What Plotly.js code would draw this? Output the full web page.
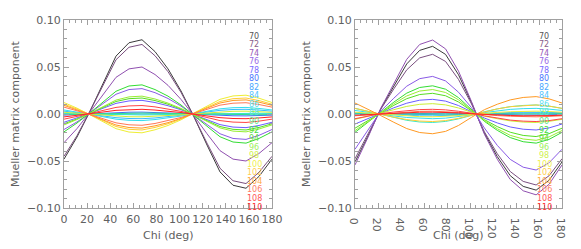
<!DOCTYPE html>
<html>
<head>
<meta charset="utf-8">
<script src="https://cdn.plot.ly/plotly-3.0.1.min.js"></script>
<style>html,body{margin:0;padding:0;background:#fff;}#chart{width:581px;height:249px;}</style>
</head>
<body>
<div id="chart"></div>
<script>
// Chi sample angles (deg)
const chi = [0, 11.25, 22.5, 33.75, 45, 56.25, 67.5, 78.75, 90, 101.25, 112.5, 123.75, 135, 146.25, 157.5, 168.75, 180];
// Scattering angle labels
const angleLabels = ['70','72','74','76','78','80','82','84','86','88','90','92','94','96','98','100','102','104','106','108','110'];

// Left panel series (one per angle label)
const L70  = [-0.048,-0.0245,0.003,0.033,0.0616,0.0758,0.079,0.0664,0.048,0.0245,-0.003,-0.033,-0.0616,-0.0758,-0.079,-0.0664,-0.048];
const L72  = [-0.045,-0.023,0.003,0.031,0.0577,0.071,0.074,0.062,0.045,0.023,-0.003,-0.031,-0.0577,-0.071,-0.074,-0.062,-0.045];
const L74  = [-0.0305,-0.0155,0.002,0.021,0.039,0.048,0.050,0.042,0.0305,0.0155,-0.002,-0.021,-0.039,-0.048,-0.050,-0.042,-0.0305];
const L76  = [-0.0165,-0.0084,0.0011,0.0113,0.021,0.026,0.027,0.0227,0.0165,0.0084,-0.0011,-0.0113,-0.021,-0.026,-0.027,-0.0227,-0.0165];
const L78  = [-0.0088,-0.0045,0.0006,0.0061,0.0113,0.0139,0.0145,0.0122,0.0088,0.0045,-0.0006,-0.0061,-0.0113,-0.0139,-0.0145,-0.0122,-0.0088];
const L80  = [-0.0012,-0.0006,0.0001,0.0008,0.0016,0.0019,0.002,0.0017,0.0012,0.0006,-0.0001,-0.0008,-0.0016,-0.0019,-0.002,-0.0017,-0.0012];
const L82  = [-0.0001,0,0,0.0001,0.0001,0.0002,0.0002,0.0001,0.0001,0,0,-0.0001,-0.0001,-0.0002,-0.0002,-0.0001,-0.0001];
const L84  = [0.003,0.0016,-0.0002,-0.0021,-0.0039,-0.0048,-0.005,-0.0042,-0.003,-0.0016,0.0002,0.0021,0.0039,0.0048,0.005,0.0042,0.003];
const L86  = [0.0043,0.0022,-0.0003,-0.0029,-0.0055,-0.0067,-0.007,-0.0059,-0.0043,-0.0022,0.0003,0.0029,0.0055,0.0067,0.007,0.0059,0.0043];
const L88  = [0.0006,0.0003,0,-0.0004,-0.0008,-0.001,-0.001,-0.0008,-0.0006,-0.0003,0,0.0004,0.0008,0.001,0.001,0.0008,0.0006];
const L90  = [-0.0006,-0.0003,0,0.0004,0.0008,0.001,0.001,0.0008,0.0006,0.0003,0,-0.0004,-0.0008,-0.001,-0.001,-0.0008,-0.0006];
const L92  = [-0.019,-0.0096,0.0012,0.013,0.0242,0.0298,0.031,0.026,0.019,0.0096,-0.0012,-0.013,-0.0242,-0.0298,-0.031,-0.026,-0.019];
const L94  = [-0.0104,-0.0053,0.0007,0.0071,0.0133,0.0163,0.017,0.0143,0.0104,0.0053,-0.0007,-0.0071,-0.0133,-0.0163,-0.017,-0.0143,-0.0104];
const L96  = [-0.0116,-0.0059,0.0008,0.008,0.0148,0.0182,0.019,0.016,0.0116,0.0059,-0.0008,-0.008,-0.0148,-0.0182,-0.019,-0.016,-0.0116];
const L98  = [0.0018,0.0009,-0.0001,-0.0013,-0.0023,-0.0029,-0.003,-0.0025,-0.0018,-0.0009,0.0001,0.0013,0.0023,0.0029,0.003,0.0025,0.0018];
const L100 = [0.0122,0.0062,-0.0008,-0.0084,-0.0156,-0.0192,-0.020,-0.0168,-0.0122,-0.0062,0.0008,0.0084,0.0156,0.0192,0.020,0.0168,0.0122];
const L102 = [0.0104,0.0053,-0.0007,-0.0071,-0.0133,-0.0163,-0.017,-0.0143,-0.0104,-0.0053,0.0007,0.0071,0.0133,0.0163,0.017,0.0143,0.0104];
const L104 = [0.0092,0.0047,-0.0006,-0.0063,-0.0117,-0.0144,-0.015,-0.0126,-0.0092,-0.0047,0.0006,0.0063,0.0117,0.0144,0.015,0.0126,0.0092];
const L106 = [0.0073,0.0037,-0.0005,-0.005,-0.0094,-0.0115,-0.012,-0.0101,-0.0073,-0.0037,0.0005,0.005,0.0094,0.0115,0.012,0.0101,0.0073];
const L108 = [-0.0055,-0.0028,0.0004,0.0038,0.007,0.0086,0.009,0.0076,0.0055,0.0028,-0.0004,-0.0038,-0.007,-0.0086,-0.009,-0.0076,-0.0055];
const L110 = [-0.0031,-0.0016,0.0002,0.0021,0.0039,0.0048,0.005,0.0042,0.0031,0.0016,-0.0002,-0.0021,-0.0039,-0.0048,-0.005,-0.0042,-0.0031];

// Right panel series
const R70  = [-0.051,-0.0235,0.0058,0.0302,0.0533,0.0677,0.072,0.0634,0.0418,0.0122,-0.0203,-0.0454,-0.0656,-0.077,-0.081,-0.0705,-0.051];
const R72  = [-0.0476,-0.0219,0.0051,0.0267,0.047,0.0597,0.0635,0.0559,0.0368,0.0108,-0.0189,-0.0423,-0.0612,-0.0717,-0.0755,-0.0657,-0.0476];
const R74  = [-0.0542,-0.0249,0.0063,0.0331,0.0582,0.074,0.0787,0.0693,0.0456,0.0134,-0.0215,-0.0482,-0.0697,-0.0817,-0.086,-0.0748,-0.0542];
const R76  = [-0.0375,-0.0173,0.0032,0.0168,0.0296,0.0376,0.040,0.0352,0.0232,0.0068,-0.0149,-0.0334,-0.0483,-0.0566,-0.0596,-0.0519,-0.0375];
const R78  = [-0.0107,-0.0049,0.0012,0.0066,0.0115,0.0147,0.0156,0.0137,0.009,0.0027,-0.0043,-0.0095,-0.0138,-0.0162,-0.017,-0.0148,-0.0107];
const R80  = [-0.0006,-0.0003,0.0001,0.0004,0.0007,0.0009,0.001,0.0009,0.0006,0.0002,-0.0003,-0.0006,-0.0008,-0.001,-0.001,-0.0009,-0.0006];
const R82  = [0.0006,0.0003,-0.0001,-0.0004,-0.0007,-0.0009,-0.001,-0.0009,-0.0006,-0.0002,0.0003,0.0006,0.0008,0.001,0.001,0.0009,0.0006];
const R84  = [0.0013,0.0006,-0.0002,-0.0008,-0.0015,-0.0019,-0.002,-0.0018,-0.0012,-0.0003,0.0005,0.0011,0.0016,0.0019,0.002,0.0017,0.0013];
const R86  = [0.0038,0.0017,-0.0004,-0.0021,-0.0037,-0.0047,-0.005,-0.0044,-0.0029,-0.0009,0.0015,0.0034,0.0049,0.0057,0.006,0.0052,0.0038];
const R88  = [0.006,0.0028,-0.0007,-0.0038,-0.0067,-0.0085,-0.009,-0.0079,-0.0052,-0.0015,0.0024,0.0054,0.0078,0.0091,0.0096,0.0084,0.006];
const R90  = [0.0002,0.0001,0,0,-0.0001,-0.0001,-0.0001,-0.0001,0,0,0,0.0001,0.0001,0.0001,0.0001,0.0001,0.0002];
const R92  = [-0.0195,-0.009,0.0024,0.0126,0.0222,0.0282,0.030,0.0264,0.0174,0.0051,-0.0078,-0.0174,-0.0251,-0.0295,-0.031,-0.027,-0.0195];
const R94  = [-0.0151,-0.007,0.0018,0.0092,0.0163,0.0207,0.022,0.0194,0.0128,0.0037,-0.006,-0.0134,-0.0194,-0.0228,-0.024,-0.0209,-0.0151];
const R96  = [-0.0176,-0.0081,0.0021,0.0109,0.0192,0.0244,0.026,0.0229,0.0151,0.0044,-0.007,-0.0157,-0.0227,-0.0266,-0.028,-0.0244,-0.0176];
const R98  = [-0.0057,-0.0026,0.0009,0.0046,0.0081,0.0103,0.011,0.0097,0.0064,0.0019,-0.0023,-0.005,-0.0073,-0.0086,-0.009,-0.0078,-0.0057];
const R100 = [0.0019,0.0009,-0.0002,-0.0013,-0.0022,-0.0028,-0.003,-0.0026,-0.0017,-0.0005,0.0008,0.0017,0.0024,0.0029,0.003,0.0026,0.0019];
const R102 = [0.006,0.0028,-0.0006,-0.0034,-0.0059,-0.0075,-0.008,-0.007,-0.0046,-0.0014,0.0024,0.0054,0.0078,0.0091,0.0096,0.0084,0.006];
const R104 = [0.0117,0.0054,-0.0017,-0.0088,-0.0155,-0.0197,-0.021,-0.0185,-0.0122,-0.0036,0.0046,0.0104,0.015,0.0176,0.0185,0.0161,0.0117];
const R106 = [-0.0019,-0.0009,0.0002,0.0013,0.0022,0.0028,0.003,0.0026,0.0017,0.0005,-0.0008,-0.0017,-0.0024,-0.0029,-0.003,-0.0026,-0.0019];
const R108 = [-0.005,-0.0023,0.0004,0.0021,0.0037,0.0047,0.005,0.0044,0.0029,0.0009,-0.002,-0.0045,-0.0065,-0.0076,-0.008,-0.007,-0.005];
const R110 = [-0.0013,-0.0006,0.0002,0.0008,0.0015,0.0019,0.002,0.0018,0.0012,0.0003,-0.0005,-0.0011,-0.0016,-0.0019,-0.002,-0.0017,-0.0013];

const leftSeries  = [L70,L72,L74,L76,L78,L80,L82,L84,L86,L88,L90,L92,L94,L96,L98,L100,L102,L104,L106,L108,L110];
const rightSeries = [R70,R72,R74,R76,R78,R80,R82,R84,R86,R88,R90,R92,R94,R96,R98,R100,R102,R104,R106,R108,R110];

// styles
const lineColors = ['#3a3a3a','#7a4f7f','#9050b0','#8a5ae6','#6a5cff','#3d6bff','#3399ff','#33bbff','#33ddee','#33e8c8','#33e088',
                    '#33dd33','#55dd22','#99ee33','#ccee33','#eeee33','#ffcc33','#ff9922','#ff7755','#ff4444','#ff2222'];
const labelColors = ['#555555','#8a608a','#9a5ab8','#9a6ae8','#7a6aff','#4a78ff','#4aa8ff','#55c4ff','#5ee0f0','#5ee8c8','#5ee890',
                     '#44dd44','#66dd44','#a0f060','#d0f050','#f0f050','#ffd050','#ffaa44','#ff8066','#ff5555','#ff3333'];

const traces = [];
leftSeries.forEach((s, i) => traces.push({x: chi, y: s, xaxis: 'x', yaxis: 'y', mode: 'lines',
  line: {color: lineColors[i], width: 1}, hoverinfo: 'skip', showlegend: false}));
rightSeries.forEach((s, i) => traces.push({x: chi, y: s, xaxis: 'x2', yaxis: 'y2', mode: 'lines',
  line: {color: lineColors[i], width: 1}, hoverinfo: 'skip', showlegend: false}));

const W = 581, H = 249;
const yTop = 20, yBot = 208;
const yDom = [(H - yBot) / H, (H - yTop) / H];
const font = {family: 'DejaVu Sans, Liberation Sans, sans-serif', size: 11, color: '#606060'};

function xax(dom, anchor) {
  return {domain: dom, anchor: anchor, range: [0, 180], tickvals: [0,20,40,60,80,100,120,140,160,180],
    ticks: 'inside', ticklen: 5, tickcolor: '#a0a0a0', showline: true, linecolor: '#a0a0a0', linewidth: 1,
    mirror: 'allticks', showgrid: false, zeroline: false, tickfont: font, automargin: false, ticklabelstandoff: 1,
    minor: {dtick: 5, tick0: 0, ticks: 'inside', ticklen: 3, tickcolor: '#a0a0a0', showgrid: false}};
}
function yax(dom, anchor) {
  return {domain: dom, anchor: anchor, range: [-0.1, 0.1], tickvals: [-0.1,-0.05,0,0.05,0.1], tickformat: '.2f',
    ticks: 'inside', ticklen: 5, tickcolor: '#a0a0a0', showline: true, linecolor: '#a0a0a0', linewidth: 1,
    mirror: 'allticks', showgrid: false, zeroline: false, tickfont: font, automargin: false,
    minor: {dtick: 0.01, tick0: 0, ticks: 'inside', ticklen: 3, tickcolor: '#a0a0a0', showgrid: false}};
}

const annotations = [];
const labelX = [254 / W, 544 / W];
angleLabels.forEach((lab, i) => {
  const ypix = 36 + i * 8.55;
  labelX.forEach(lx => annotations.push({text: lab, xref: 'paper', yref: 'paper', x: lx, y: (H - ypix) / H,
    xanchor: 'center', yanchor: 'middle', showarrow: false,
    font: {family: 'DejaVu Sans, sans-serif', size: 8, color: labelColors[i]}}));
});
// axis titles
[168, 458.5].forEach(cx => annotations.push({text: 'Chi (deg)', xref: 'paper', yref: 'paper', x: cx / W, y: (H - 235) / H,
  xanchor: 'center', yanchor: 'middle', showarrow: false, font: font}));
[15, 306].forEach(cx => annotations.push({text: 'Mueller matrix component', xref: 'paper', yref: 'paper', x: cx / W, y: (H - 114) / H,
  xanchor: 'center', yanchor: 'middle', showarrow: false, textangle: -90, font: font}));

const layout = {
  width: W, height: H, margin: {l: 0, r: 0, t: 0, b: 0}, paper_bgcolor: '#fff', plot_bgcolor: '#fff',
  showlegend: false,
  xaxis: xax([64 / W, 272 / W], 'y'),
  yaxis: yax(yDom, 'x'),
  xaxis2: xax([355 / W, 562 / W], 'y2'),
  yaxis2: yax(yDom, 'x2'),
  annotations: annotations
};

Plotly.newPlot('chart', traces, layout, {displayModeBar: false, staticPlot: true});
</script>
</body>
</html>
